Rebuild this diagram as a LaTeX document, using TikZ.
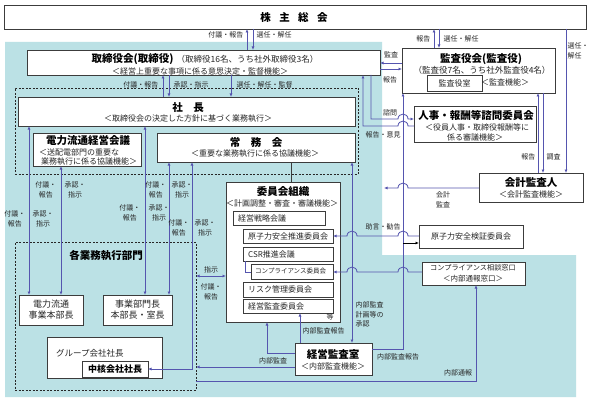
\documentclass[tikz,border=0pt]{standalone}
\usepackage{fontspec}
\setmainfont{Noto Sans CJK JP}
\usetikzlibrary{arrows.meta}
\definecolor{bgteal}{RGB}{187,225,229}
\definecolor{lnblue}{RGB}{85,85,175}
\definecolor{bdr}{RGB}{60,60,60}
\newcommand\mybox[6][]{\node[box,#1,minimum width={(#5-#3)*1pt},minimum height={(#6-#4)*1pt}] (#2) at ({(#3+#5)/2},{(#4+#6)/2}) {};}
\begin{document}
\begin{tikzpicture}[x=1pt,y=-1pt,
 box/.style={draw=bdr,fill=white,line width=0.9pt,inner sep=0pt,outer sep=0pt},
 dbox/.style={draw=black!85,fill=none,line width=0.7pt,dash pattern=on 2pt off 1.5pt},
 conn/.style={draw=lnblue,line width=0.8pt},
 ar/.style={conn,-{Latex[length=3.5pt,width=3pt]}},
 ra/.style={conn,{Latex[length=3.5pt,width=3pt]}-},
 da/.style={conn,{Latex[length=3.5pt,width=3pt]}-{Latex[length=3.5pt,width=3pt]}},
 lbl/.style={font=\fontsize{7}{9.5}\selectfont,inner sep=0.5pt,align=center,text=black!85},
 ttl/.style={font=\fontsize{10.5}{12}\selectfont\bfseries,inner sep=0pt},
 sub/.style={font=\fontsize{8}{10}\selectfont,inner sep=0pt,text=black!85},
]
\useasboundingbox (0,0) rectangle (591,401);
\fill[white] (0,0) rectangle (591,401);
\fill[bgteal] (5,42) -- (382,42) -- (382,255) -- (576,255) -- (576,397) -- (5,397) -- cycle;

% dashed regions
\mybox[dbox]{exec}{15}{88}{358}{174}
\mybox[dbox]{dept}{15}{242}{196}{390}

% boxes
\mybox{sh}{4}{5}{586}{29}
\mybox{bod}{27}{50}{380}{75}
\mybox{pres}{18}{97}{355}{126}
\mybox{dens}{33}{133}{141}{166}
\mybox{jomu}{157}{133}{355}{162}
\mybox{iin}{226}{182}{340}{322}
\mybox{c1}{233}{211}{325}{225}
\mybox{c2}{243}{229}{333}{243}
\mybox{c3}{243}{247}{333}{261}
\mybox{c4}{251}{264}{333}{279}
\mybox{c5}{243}{282}{333}{297}
\mybox{c6}{243}{299}{333}{313}
\mybox{kansa}{402}{48}{555}{93}
\mybox{kroom}{427}{75}{482}{91}
\mybox{jinji}{414}{106}{536}{142}
\mybox{kaikei}{479}{173}{583}{202}
\mybox{genshi}{419}{225}{523}{248}
\mybox{comp}{422}{262}{525}{285}
\mybox{keiei}{295}{343}{372}{375}
\mybox{denryu}{19}{295}{83}{325}
\mybox{jigyo}{103}{295}{172}{325}
\mybox{group}{47}{337}{162}{378}
\mybox{chukaku}{82}{361}{148}{377}

% box texts
\node[ttl] (tsh) at (294,17) {株\hspace{0.8em}主\hspace{0.8em}総\hspace{0.8em}会};
\node[inner sep=0pt] (tbod1) at (205,59) {{\fontsize{10.5}{12}\selectfont\bfseries 取締役会(取締役)}\hspace{3pt}{\fontsize{8.5}{10}\selectfont\color{black!85}（取締役16名、うち社外取締役3名）}};
\node[sub] (tbod2) at (200,71) {＜経営上重要な事項に係る意思決定・監督機能＞};
\node[ttl] (tpres1) at (188,108) {社\hspace{1em}長};
\node[sub] (tpres2) at (188,119) {＜取締役会の決定した方針に基づく業務執行＞};
\node[ttl] (tdens1) at (88,141) {電力流通経営会議};
\node[sub,anchor=west] (tdens2) at (39,152) {＜送配電部門の重要な};
\node[sub,anchor=west] (tdens3) at (41,162) {業務執行に係る協議機能＞};
\node[ttl] (tjomu1) at (256,143) {常\hspace{1em}務\hspace{1em}会};
\node[sub] (tjomu2) at (255,154) {＜重要な業務執行に係る協議機能＞};
\node[ttl] (tiin1) at (283,192) {委員会組織};
\node[sub] (tiin2) at (282,203) {＜計画調整・審査・審議機能＞};
\node[sub,anchor=west] (tc1) at ([xshift=5pt]c1.west) {経営戦略会議};
\node[sub,anchor=west] (tc2) at ([xshift=5pt]c2.west) {原子力安全推進委員会};
\node[sub,anchor=west] (tc3) at ([xshift=5pt]c3.west) {CSR推進会議};
\node[sub,anchor=west,font=\fontsize{6.5}{8}\selectfont] (tc4) at ([xshift=4pt]c4.west) {コンプライアンス委員会};
\node[sub,anchor=west] (tc5) at ([xshift=5pt]c5.west) {リスク管理委員会};
\node[sub,anchor=west] (tc6) at ([xshift=5pt]c6.west) {経営監査委員会};
\node[lbl] (tnado) at (330,317) {等};
\node[inner sep=0pt] (tkansa1) at (481,59) {\fontsize{10.5}{12}\selectfont\bfseries 監査役会(監査役)};
\node[inner sep=0pt] (tkansa2) at (482,70) {\fontsize{8.5}{10}\selectfont\color{black!85}（監査役7名、うち社外監査役4名）};
\node[sub] (tkroom) at (kroom) {監査役室};
\node[sub] (tkansa3) at (505,82) {＜監査機能＞};
\node[ttl] (tjinji1) at (476,115) {人事・報酬等諮問委員会};
\node[sub] (tjinji2) at (477,127) {＜役員人事・取締役報酬等に};
\node[sub] (tjinji3) at (475,137) {係る審議機能＞};
\node[ttl] (tkaikei1) at (531,183) {会計監査人};
\node[sub] (tkaikei2) at (531,194) {＜会計監査機能＞};
\node[sub] (tgenshi) at (genshi) {原子力安全検証委員会};
\node[sub,font=\fontsize{7.2}{9}\selectfont] (tcomp1) at (473,268) {コンプライアンス相談窓口};
\node[sub,font=\fontsize{7.5}{9}\selectfont] (tcomp2) at (473,279) {＜内部通報窓口＞};
\node[ttl] (tkeiei1) at (333,354) {経営監査室};
\node[sub] (tkeiei2) at (333,366) {＜内部監査機能＞};
\node[ttl] (tdept) at (106,256) {各業務執行部門};
\node[sub,font=\fontsize{9}{11}\selectfont,align=center] (tdenryu) at (denryu) {電力流通\\事業本部長};
\node[sub,font=\fontsize{9}{11}\selectfont,align=center] (tjigyo) at (jigyo) {事業部門長\\本部長・室長};
\node[sub,font=\fontsize{8.5}{10}\selectfont,anchor=west] (tgroup) at (56,353) {グループ会社社長};
\node[inner sep=0pt] (tchukaku) at (chukaku) {\fontsize{9}{11}\selectfont\bfseries 中核会社社長};

% connectors: shareholders
\draw[ra] (sh.south -| 247,0) -- (bod.north -| 247,0);
\draw[ar] (sh.south -| 253,0) -- (bod.north -| 253,0);
\node[lbl,anchor=east] (l1) at (244,35) {付議・報告};
\node[lbl,anchor=west] (l2) at (256,35) {選任・解任};
\draw[ra] (sh.south -| 434,0) -- (kansa.north -| 434,0);
\draw[ar] (sh.south -| 439,0) -- (kansa.north -| 439,0);
\node[lbl,anchor=east] (l3) at (431,39) {報告};
\node[lbl,anchor=west] (l4) at (443,39) {選任・解任};
\draw[ar] (sh.south -| 566,0) -- (kaikei.north -| 566,0);
\node[lbl,anchor=north west,align=left] (l5) at (567,42) {選任・\\解任};

% board - president
\draw[ra] (bod.south -| 163,0) -- (pres.north -| 163,0);
\draw[ar] (bod.south -| 169,0) -- (pres.north -| 169,0);
\draw[ar] (bod.south -| 231,0) -- (pres.north -| 231,0);
\node[lbl,anchor=east] (l6) at (159,85) {付議・報告};
\node[lbl,anchor=west] (l7) at (173,85) {承認・指示};
\node[lbl,anchor=west] (l8) at (236,85) {選任・解任・監督};

% board - auditors
\draw[ar] (kansa.west |- 0,63) -- (bod.east |- 0,63);
\draw[ar] (bod.east |- 0,69) -- (kansa.west |- 0,69);
\node[lbl] (l9) at (391,55) {監査};
\node[lbl] (l10) at (390,80) {報告};

% advisory committee
\draw[ar] (bod.south -| 371,0) -- (371,119) -- (398,119) .. controls (398,112.5) and (408,112.5) .. (408,119) -- (jinji.west |- 0,119);
\draw[ar] (jinji.west |- 0,126) -- (408,126) .. controls (408,119.5) and (398,119.5) .. (398,126) -- (363,126) -- (bod.south -| 363,0);
\node[lbl] (l11) at (390,113) {諮問};
\node[lbl] (l12) at (383,135) {報告・意見};

% accounting auditor
\draw[ar] (kaikei.north -| 538,0) -- (kansa.south -| 538,0);
\draw[ar] (kansa.south -| 543,0) -- (kaikei.north -| 543,0);
\node[lbl,anchor=east] (l13) at (536,157) {報告};
\node[lbl,anchor=west] (l14) at (546,157) {調査};
\coordinate (kaEnd) at (384,188);
\draw[ar] (kaikei.west |- 0,188) -- (408,188) .. controls (408,181.5) and (398,181.5) .. (398,188) -- (kaEnd);
\node[lbl] (l15) at (443,200) {会計\\監査};

% internal audit report to auditors
\draw[ar] (keiei.east |- 0,349) -- (403,349) -- (kansa.south -| 403,0);
\node[lbl] (l16) at (398,357) {内部監査報告};
\draw[-{Latex[length=3.5pt,width=3pt]},black,line width=0.7pt] (403,243) -- (genshi.west |- 0,243);

% advice
\draw[ar] (genshi.west |- 0,236) -- (408,236) .. controls (408,229.5) and (398,229.5) .. (398,236) -- (357,236) .. controls (357,229.5) and (347,229.5) .. (347,236) -- (c2.east |- 0,236);
\node[lbl] (l17) at (383,227) {助言・勧告};
\draw[ar] (comp.west |- 0,272) -- (408,272) .. controls (408,265.5) and (398,265.5) .. (398,272) -- (357,272) .. controls (357,265.5) and (347,265.5) .. (347,272) -- (c4.east |- 0,272);

% audit office
\draw[da] (jomu.south -| 352,0) -- (keiei.north -| 352,0);
\node[lbl,anchor=north west,align=left] (l18) at (355,301) {内部監査\\計画等の\\承認};
\draw[ar] (keiei.north -| 300,0) -- (c6.south -| 300,0);
\node[lbl,anchor=west] (l19) at (302,331) {内部監査報告};
\draw[ar] (keiei.west |- 0,353) -- (267,353) -- (iin.south -| 267,0);
\draw[ar] (keiei.west |- 0,367) -- (dept.east |- 0,367);
\node[lbl] (l20) at (273,361) {内部監査};
\draw[ar] (dept.east |- 0,381) -- (476,381) -- (comp.south -| 476,0);
\node[lbl] (l21) at (458,373) {内部通報};

% committees - departments
\draw[da] (dept.east |- 0,276) -- (iin.west |- 0,276);
\node[lbl] (l22) at (211,270) {指示};
\node[lbl] (l23) at (211,292) {付議・\\報告};
\draw[draw=bdr,line width=0.8pt] (jomu.south -| 291,0) -- (iin.north -| 291,0);
\draw[conn] (c3.south -| 245,0) -- (245,272) -- (c4.west |- 0,272);

% executive lines
\draw[da] (pres.south -| 29,0) -- (denryu.north -| 29,0);
\node[lbl,anchor=east] (l24) at (26,219) {付議・\\報告};
\node[lbl,anchor=west] (l25) at (32,219) {承認・\\指示};
\draw[da] (dens.south -| 61,0) -- (denryu.north -| 61,0);
\node[lbl,anchor=east] (l26) at (57,190) {付議・\\報告};
\node[lbl,anchor=west] (l27) at (64,190) {承認・\\指示};
\draw[da] (pres.south -| 145,0) -- (jigyo.north -| 145,0);
\node[lbl,anchor=east] (l28) at (141,213) {付議・\\報告};
\node[lbl,anchor=west] (l29) at (148,213) {承認・\\指示};
\draw[da] (jomu.south -| 169,0) -- (jigyo.north -| 169,0);
\node[lbl,anchor=east] (l30) at (167,190) {付議・\\報告};
\node[lbl,anchor=west] (l31) at (171,190) {承認・\\指示};
\draw[da] (jomu.south -| 192,0) -- (192,369) -- (chukaku.east |- 0,369);
\node[lbl,anchor=east] (l32) at (190,228) {付議・\\報告};
\node[lbl,anchor=west] (l33) at (194,228) {承認・\\指示};
\end{tikzpicture}
\end{document}
